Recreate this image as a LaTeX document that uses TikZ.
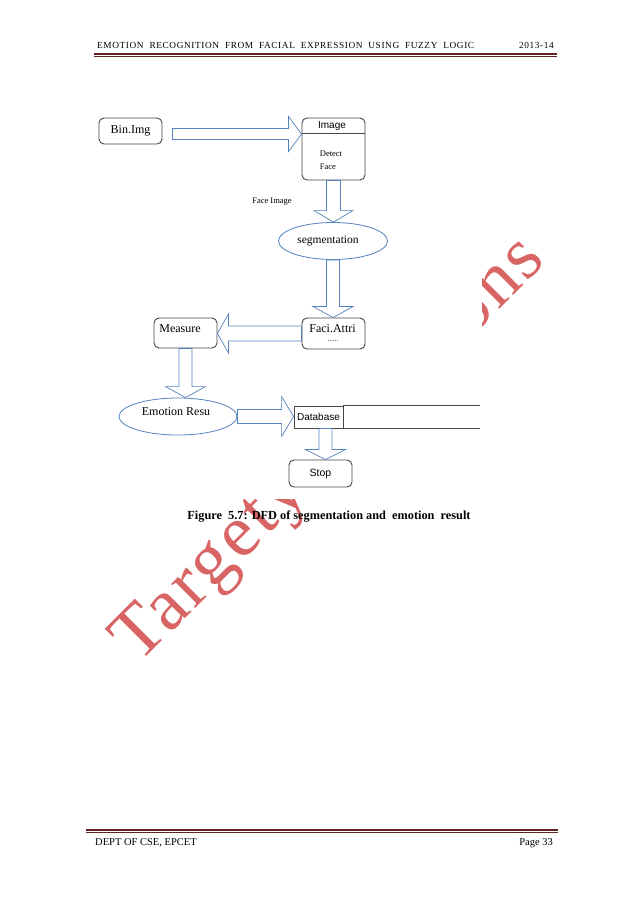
\documentclass[tikz,border=0pt]{standalone}
\usepackage{fontspec}
\setmainfont{Liberation Serif}
\newfontfamily\arialfont{Liberation Sans}
\newfontfamily\markfont[LetterSpace=4]{Liberation Serif}
\newfontfamily\headfont[LetterSpace=6.5]{Liberation Serif}
\usetikzlibrary{calc,shapes.geometric}

\definecolor{flowblue}{RGB}{84,130,190}
\definecolor{boxgray}{RGB}{70,70,70}
\definecolor{rulered}{RGB}{98,36,35}
\definecolor{markred}{RGB}{216,100,100}

% hollow block arrow: start, tip, shaft half width, head half width, head length
\newcommand\blockarrow[5]{%
  \coordinate (ba-s) at (#1);
  \coordinate (ba-t) at (#2);
  \coordinate (ba-h) at ($(ba-t)!#5!(ba-s)$);
  \draw[flowarrow]
    ($(ba-s)!#3!90:(ba-t)$) -- ($(ba-h)!#3!90:(ba-t)$) -- ($(ba-h)!#4!90:(ba-t)$) -- (ba-t)
    -- ($(ba-h)!#4!-90:(ba-t)$) -- ($(ba-h)!#3!-90:(ba-t)$) -- ($(ba-s)!#3!-90:(ba-t)$) -- cycle;
}

\begin{document}
\begin{tikzpicture}[x=1pt,y=-1pt,
  procbox/.style={draw=boxgray, line width=0.9pt, rounded corners=5pt, fill=white, inner sep=0pt},
  procell/.style={draw=flowblue, line width=0.8pt, ellipse, fill=white, inner sep=0pt},
  flowarrow/.style={draw=flowblue, line width=0.7pt, fill=white, line join=miter},
  serifsm/.style={font=\fontsize{12}{14}\selectfont},
  sanssm/.style={font=\arialfont\fontsize{10}{12}\selectfont},
  watermark/.style={text=markred, font=\markfont\fontsize{74}{74}\selectfont, rotate=45, inner sep=0pt},
  pagetext/.style={font=\headfont\fontsize{9.3}{11}\selectfont, inner sep=0pt}]

\useasboundingbox (0,0) rectangle (638,903);
\fill[white] (0,0) rectangle (638,903);

% watermark, partly hidden behind the figure
\node[watermark, anchor=base west] (wm-a) at (138.5,665) {Targety};
\node[watermark, anchor=base west] (wm-b) at (470,339) {ons};
\fill[white] (88,100) rectangle (482,499);

% running header
\node[pagetext, anchor=base west] (hdr) at (97,48) {EMOTION\ \ RECOGNITION\ \ FROM\ \ FACIAL\ \ EXPRESSION\ \ USING\ \ FUZZY\ \ LOGIC};
\node[pagetext, anchor=base east] (year) at (554,48) {2013-14};
\fill[rulered] (94,52.7) rectangle (557,55.2);
\draw[rulered, line width=0.7pt] (94,56.6) -- (557,56.6);

% processes and stores
\node[procbox, serifsm, minimum width=63, minimum height=26] (binimg) at (130.5,131) {Bin.Img};
\node[procbox, minimum width=63, minimum height=62] (image) at (333.5,149) {};
\draw[boxgray, line width=0.9pt] ($(image.north west)+(0,16)$) -- ($(image.north east)+(0,16)$);
\node[sanssm, inner sep=0pt] (image-t) at (332,126) {Image};
\node[font=\fontsize{8.5}{12.5}\selectfont, align=left, inner sep=0pt] (detect) at (331,160.5) {Detect\\Face};
\node[font=\fontsize{8.5}{10}\selectfont, inner sep=0pt] (faceimg) at (272,202) {Face Image};

\node[procell, minimum width=109, minimum height=37] (seg) at (333,241) {};
\node[font=\fontsize{11.5}{13}\selectfont, inner sep=0pt] (seg-t) at (328,240.5) {segmentation};

\node[procbox, minimum width=63, minimum height=31] (faci) at (333.5,333.5) {};
\node[serifsm, inner sep=0pt] (faci-t) at (332.5,329) {Faci.Attri};
\node[font=\fontsize{7}{8}\selectfont, inner sep=0pt] (faci-d) at (333,341) {......};

\node[procbox, minimum width=63, minimum height=30] (measure) at (185.5,333) {};
\node[serifsm, inner sep=0pt] (measure-t) at (180,329) {Measure};

\node[procell, minimum width=118, minimum height=37] (emo) at (178,416.5) {};
\node[serifsm, inner sep=0pt] (emo-t) at (176,412) {Emotion Resu};

\node[draw=boxgray, line width=0.8pt, sanssm, minimum width=49, minimum height=22, inner sep=0pt] (dbcell) at (318.5,417) {Database};
\draw[boxgray, line width=0.8pt] (dbcell.north east) -- ++(137,0);
\draw[boxgray, line width=0.8pt] (dbcell.south east) -- ++(137,0);

\node[procbox, font=\arialfont\fontsize{10.5}{12}\selectfont, minimum width=63, minimum height=27] (stop) at (320.5,473.5) {Stop};

% data flows
\blockarrow{$(binimg.east)+(10,3)$}{image.west |- ba-s}{5.5pt}{17.5pt}{13pt}
\blockarrow{image.south}{seg.north -| ba-s}{7pt}{19.5pt}{11.5pt}
\blockarrow{seg.south}{faci.north -| ba-s}{6.5pt}{20pt}{11pt}
\blockarrow{faci.west}{measure.east |- ba-s}{7.5pt}{19.5pt}{11pt}
\blockarrow{measure.south}{emo.north -| ba-s}{6.5pt}{20pt}{11pt}
\blockarrow{emo.east}{dbcell.west |- ba-s}{7pt}{20pt}{12pt}
\blockarrow{$(dbcell.south)+(7,0)$}{stop.north -| ba-s}{6.5pt}{20pt}{10pt}

% caption
\node[font=\bfseries\fontsize{12.3}{14}\selectfont, inner sep=0pt, anchor=base] (caption) at (329,519) {Figure\ \ 5.7: DFD of segmentation and\ \ emotion\ \ result};

% footer
\fill[rulered] (86,828.5) rectangle (558,831);
\draw[rulered, line width=0.7pt] (86,832.8) -- (558,832.8);
\node[font=\fontsize{10.5}{12}\selectfont, inner sep=0pt, anchor=base west] (dept) at (95,845) {DEPT OF CSE, EPCET};
\node[font=\fontsize{10.5}{12}\selectfont, inner sep=0pt, anchor=base east] (page) at (553,845) {Page 33};
\end{tikzpicture}
\end{document}
